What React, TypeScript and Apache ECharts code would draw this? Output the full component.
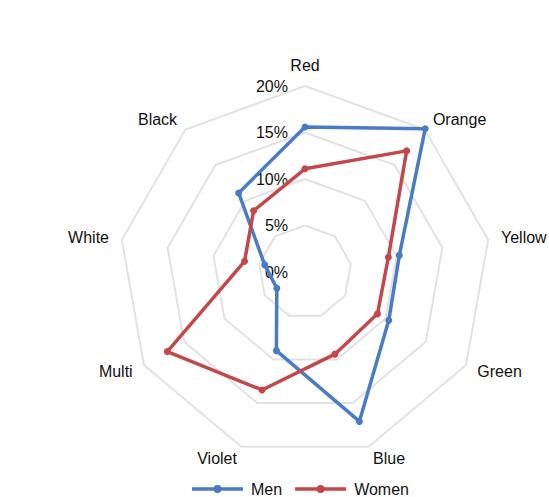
import React, { useEffect, useRef } from "react";
import * as echarts from "echarts";

// Categories in clockwise order starting at the top
const categories = ["Red", "Orange", "Yellow", "Green", "Blue", "Violet", "Multi", "White", "Black"];
const menValues = [15.6, 20.1, 10.3, 10.4, 17.1, 9.0, 3.5, 4.4, 11.1];
const womenValues = [11.1, 17.0, 9.1, 9.0, 9.4, 13.5, 17.1, 6.6, 8.6];
const axisMax = 20;
const seriesNames = ["Men", "Women"];
const seriesColors = ["#4a7bc5", "#c3474b"];

// ECharts lays indicators counter-clockwise; reorder so they read clockwise.
const order = [0, ...Array.from({ length: categories.length - 1 }, (_, i) => categories.length - 1 - i)];

const legendIcon =
  "path://M0,2.25 L51,2.25 L51,5.75 L0,5.75 Z M21.5,4 A4,4 0 1,1 29.5,4 A4,4 0 1,1 21.5,4 Z";

export default function App() {
  const ref = useRef<HTMLDivElement>(null);
  useEffect(() => {
    if (!ref.current) return;
    const chart = echarts.init(ref.current, undefined, { renderer: "svg" });
    const font = "'Liberation Sans', Arial, Helvetica, sans-serif";
    chart.setOption({
      animation: false,
      backgroundColor: "#ffffff",
      legend: {
        data: seriesNames.map((n) => ({ name: n, icon: legendIcon })),
        left: 192,
        top: 481,
        padding: 0,
        itemWidth: 51,
        itemHeight: 8,
        itemGap: 13,
        textStyle: { fontSize: 16, color: "#111", fontFamily: font, padding: [0, 0, 0, 3] },
      },
      radar: {
        center: [305, 272],
        radius: 186,
        startAngle: 90,
        splitNumber: 4,
        shape: "polygon",
        nameGap: 13,
        axisName: { color: "#111", fontSize: 16, fontFamily: font },
        splitLine: { lineStyle: { color: "#e2e2e2", width: 2 } },
        splitArea: { show: false },
        axisLine: { show: false },
        axisTick: { show: false },
        axisLabel: { show: false },
        indicator: order.map((i, k) => ({
          name: categories[i],
          min: 0,
          max: axisMax,
          axisLabel:
            k === 0
              ? {
                  show: true,
                  margin: 17,
                  color: "#111",
                  fontSize: 16,
                  fontFamily: font,
                  formatter: (v: number) => `${v}%`,
                }
              : { show: false },
        })),
      },
      series: [
        {
          type: "radar",
          symbol: "circle",
          symbolSize: 7,
          data: [
            {
              name: seriesNames[0],
              value: order.map((i) => menValues[i]),
              itemStyle: { color: seriesColors[0] },
              lineStyle: { color: seriesColors[0], width: 3.5 },
            },
            {
              name: seriesNames[1],
              value: order.map((i) => womenValues[i]),
              itemStyle: { color: seriesColors[1] },
              lineStyle: { color: seriesColors[1], width: 3.5 },
            },
          ],
        },
      ],
    });
    return () => chart.dispose();
  }, []);
  return (
    <div
      ref={ref}
      style={{ position: "fixed", left: 0, top: 0, width: 549, height: 497, background: "#fff" }}
    />
  );
}
